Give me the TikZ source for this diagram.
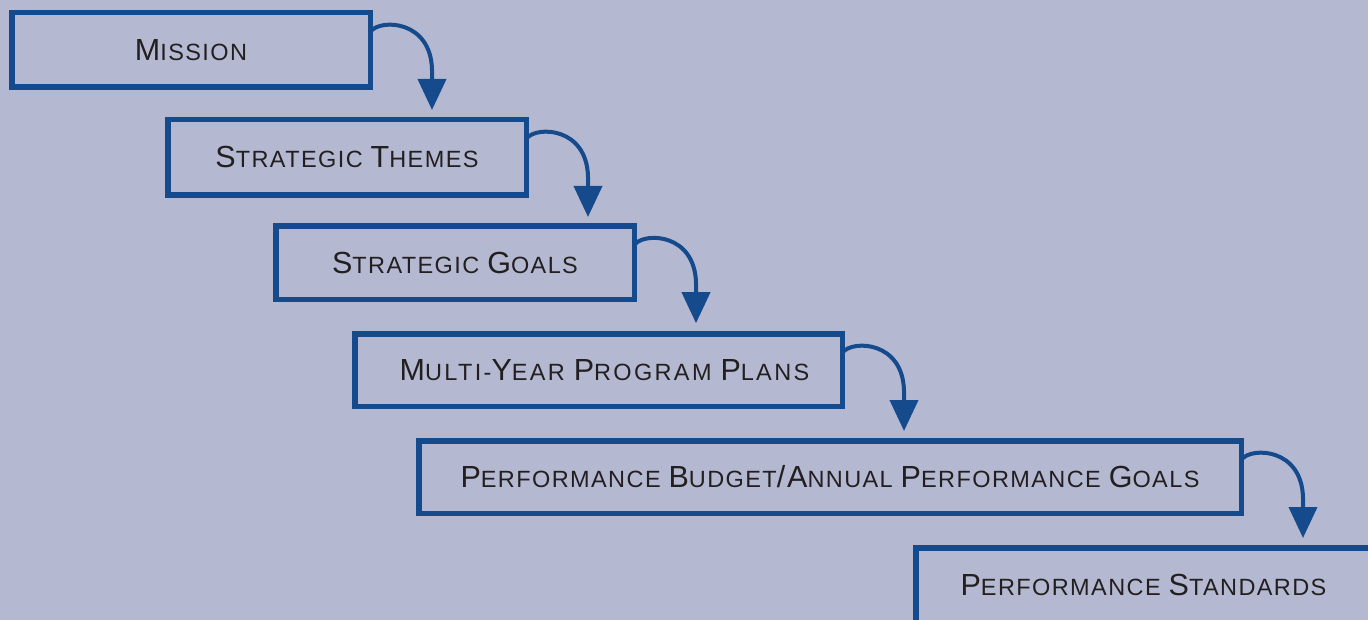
\documentclass[tikz,border=0pt]{standalone}
\usepackage{fontspec}
\setmainfont[LetterSpace=6]{Liberation Sans}
\newfontfamily\widefont[LetterSpace=10]{Liberation Sans}
\usetikzlibrary{arrows.meta,calc}
\definecolor{bg}{RGB}{180,185,209}
\definecolor{bl}{RGB}{21,74,140}
\definecolor{tx}{RGB}{35,31,32}
\newcommand\BC[1]{{\fontsize{30.5}{31}\selectfont #1}}
\begin{document}
\begin{tikzpicture}[x=1pt,y=-1pt,
  stage/.style={draw=bl, line width=5.5pt, fill=bg, text=tx,
    font=\fontsize{23.5}{25}\selectfont, inner sep=0pt, minimum height=74.5pt},
  flow/.style={draw=bl, line width=4pt, -{Triangle[width=28pt,length=31pt]}}]
\fill[bg] (0,0) rectangle (1368,620);
\useasboundingbox (0,0) rectangle (1368,620);
\clip (0,0) rectangle (1368,620);
\node[stage, minimum width=358.5pt] (b1) at (191,50) {\BC{M}ISSION};
\node[stage, minimum width=358.5pt, minimum height=75.5pt] (b2) at (347,157.5) {\BC{S}TRATEGIC \BC{T}HEMES};
\node[stage, minimum width=358.5pt, minimum height=73.5pt] (b3) at (455,262.7) {\BC{S}TRATEGIC \BC{G}OALS};
\node[stage, minimum width=487.5pt, minimum height=72.5pt, font=\widefont\fontsize{23.5}{25}\selectfont] (b4) at (598.5,370) {\hspace*{12pt}\BC{M}ULTI-\BC{Y}EAR \BC{P}ROGRAM \BC{P}LANS};
\node[stage, minimum width=822.5pt, minimum height=72.5pt] (b5) at (830,477) {\BC{P}ERFORMANCE \BC{B}UDGET\BC{/A}NNUAL \BC{P}ERFORMANCE \BC{G}OALS};
\node[stage, minimum width=455.5pt, minimum height=74.5pt] (b6) at (1143.5,585) {\BC{P}ERFORMANCE \BC{S}TANDARDS};
\foreach \a in {b1,b2,b3,b4,b5}{
  \draw[flow] ([shift={(-2,21)}]\a.north east)
    .. controls ([shift={(8,9)}]\a.north east) and ([shift={(58,10)}]\a.north east)
    .. ([shift={(59,60)}]\a.north east) -- ([shift={(59,100)}]\a.north east);
}
\end{tikzpicture}
\end{document}
